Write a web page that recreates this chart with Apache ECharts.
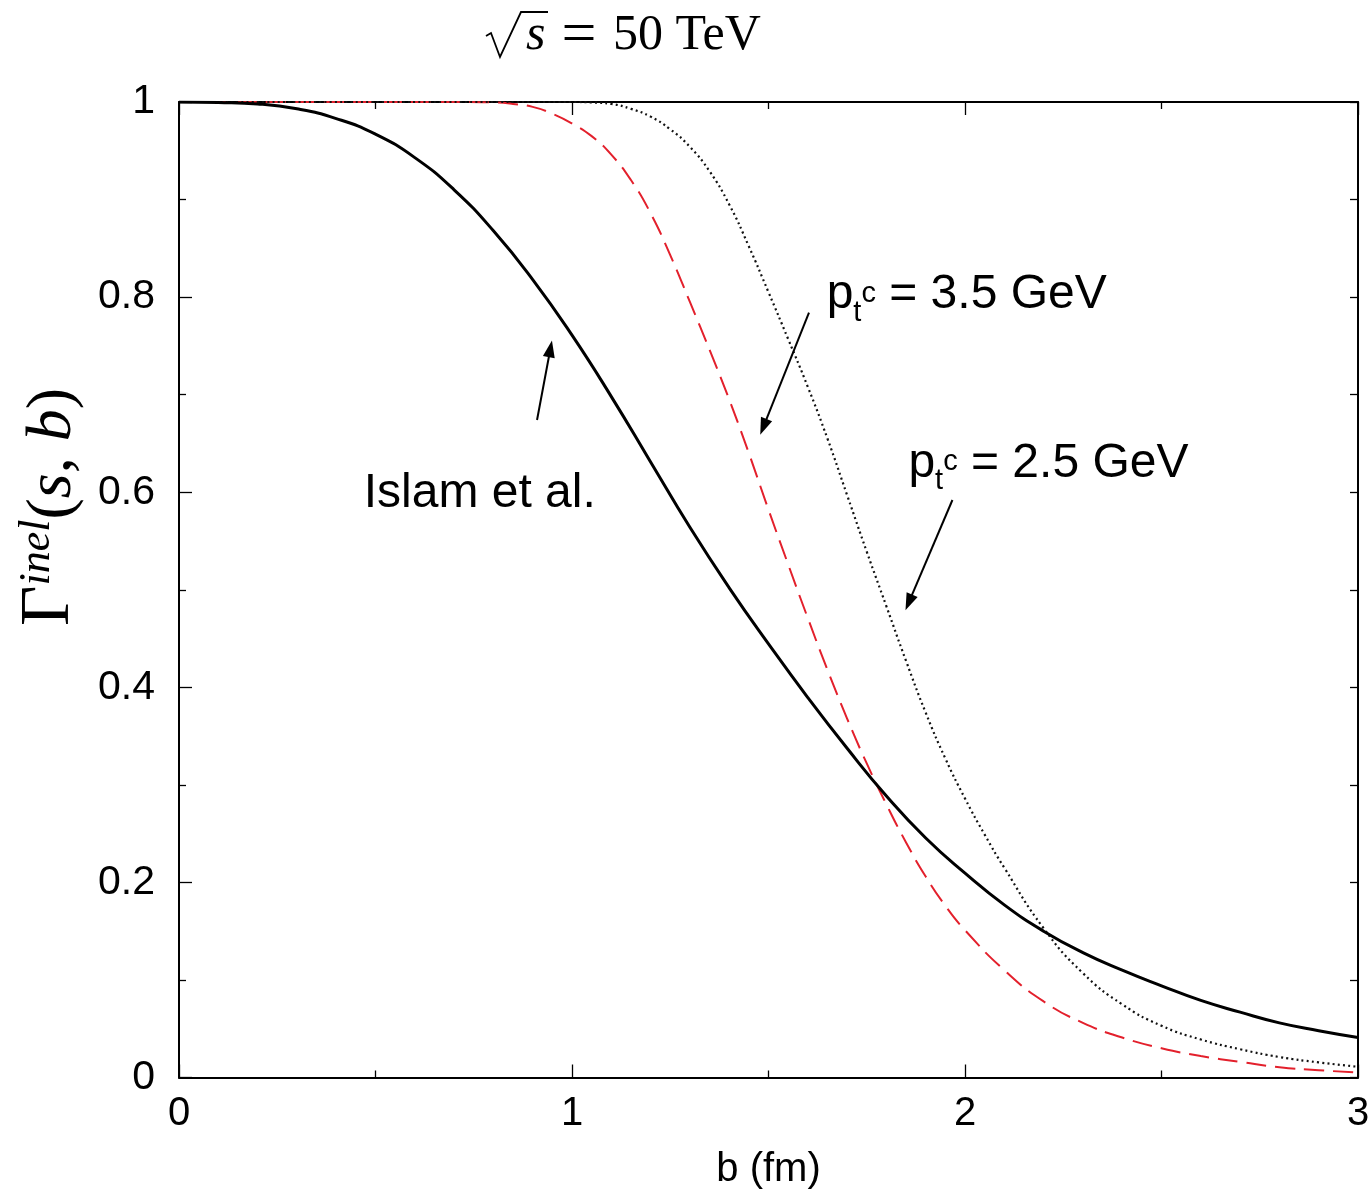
<!DOCTYPE html>
<html>
<head>
<meta charset="utf-8">
<script src="https://cdn.jsdelivr.net/npm/echarts@6/dist/echarts.min.js"></script>
<style>
  html, body { margin: 0; padding: 0; background: #fff; }
  #chart { width: 1368px; height: 1190px; }
</style>
</head>
<body>
<div id="chart"></div>
<script>
// Inelastic overlap function Γ_inel(s, b) at √s = 50 TeV
const bTickLabels = ['0', '1', '2', '3'];
const gTickLabels = ['0', '0.2', '0.4', '0.6', '0.8', '1'];

// Islam et al. (solid black)
const islam = [
  [0, 1.0], [0.1, 0.9995], [0.2, 0.998], [0.3, 0.993], [0.4, 0.983], [0.5, 0.967],
  [0.6, 0.943], [0.7, 0.910], [0.8, 0.868], [0.9, 0.818], [1.0, 0.761], [1.1, 0.698],
  [1.2, 0.631], [1.3, 0.564], [1.4, 0.502], [1.5, 0.4445], [1.6, 0.3895], [1.7, 0.3375],
  [1.8, 0.2885], [1.9, 0.2455], [2.0, 0.2095], [2.1, 0.177], [2.2, 0.150], [2.3, 0.128],
  [2.4, 0.110], [2.5, 0.094], [2.6, 0.079], [2.7, 0.067], [2.8, 0.056], [2.9, 0.048],
  [3.0, 0.041]
];

// p_t^c = 3.5 GeV (red dashed)
const pt35 = [
  [0, 1.0], [0.4, 1.0], [0.7, 1.0], [0.8, 0.9995], [0.85, 0.998], [0.9, 0.995], [0.95, 0.988],
  [1.0, 0.978], [1.05, 0.965], [1.1, 0.946], [1.15, 0.920], [1.2, 0.886], [1.25, 0.843],
  [1.3, 0.795], [1.35, 0.746], [1.4, 0.695], [1.45, 0.640], [1.5, 0.582], [1.55, 0.526],
  [1.6, 0.471], [1.65, 0.418], [1.7, 0.368], [1.75, 0.322], [1.8, 0.280], [1.85, 0.241],
  [1.9, 0.206], [1.95, 0.176], [2.0, 0.151], [2.1, 0.110], [2.2, 0.078], [2.3, 0.056],
  [2.4, 0.041], [2.5, 0.030], [2.6, 0.022], [2.7, 0.016], [2.8, 0.0105], [2.9, 0.0075],
  [3.0, 0.005]
];

// p_t^c = 2.5 GeV (black dotted)
const pt25 = [
  [0, 1.0], [0.5, 1.0], [0.9, 1.0], [1.0, 1.0], [1.05, 0.9995], [1.1, 0.998], [1.15, 0.993],
  [1.2, 0.985], [1.25, 0.972], [1.3, 0.954], [1.35, 0.929], [1.4, 0.895], [1.45, 0.852],
  [1.5, 0.805], [1.55, 0.757], [1.6, 0.708], [1.65, 0.655], [1.7, 0.597], [1.75, 0.539],
  [1.8, 0.483], [1.85, 0.427], [1.9, 0.374], [1.95, 0.327], [2.0, 0.286], [2.05, 0.249],
  [2.1, 0.215], [2.2, 0.153], [2.3, 0.107], [2.4, 0.075], [2.5, 0.053], [2.6, 0.039],
  [2.7, 0.029], [2.8, 0.021], [2.9, 0.0155], [3.0, 0.011]
];

// Annotation arrows: [tail, head] in (b, Γ) data units
const arrowIslam = [[0.911, 0.674], [0.945, 0.747]];
const arrow35 = [[1.603, 0.784], [1.487, 0.667]];
const arrow25 = [[1.968, 0.592], [1.857, 0.487]];

// Label anchors (left edge, text centre) in data units
const labelIslam = [0.470, 0.598];
const label35 = [1.648, 0.798];
const label25 = [1.856, 0.625];

const SANS = '"Liberation Sans", Arial, sans-serif';
const SERIF = '"Liberation Serif", "Times New Roman", serif';

const chart = echarts.init(document.getElementById('chart'));

function arrowLine(pair) {
  return {
    silent: true,
    animation: false,
    symbol: ['none', 'triangle'],
    symbolSize: [12, 17],
    label: { show: false },
    emphasis: { disabled: true },
    lineStyle: { color: '#000', width: 2, type: 'solid' },
    itemStyle: { color: '#000' },
    data: [[{ coord: pair[0] }, { coord: pair[1] }]]
  };
}

const tickLine = { color: '#000', width: 1.3 };
const frameLine = { show: true, onZero: false, lineStyle: { color: '#000', width: 2 } };

chart.setOption({
  animation: false,
  backgroundColor: '#fff',
  grid: {
    left: 179, right: 10, top: 102, bottom: 112.5,
    containLabel: false, outerBoundsMode: 'none'
  },
  xAxis: [
    {
      type: 'value', min: 0, max: 3, interval: 1, position: 'bottom',
      axisLine: frameLine,
      axisTick: { show: true, inside: true, length: 13, lineStyle: tickLine },
      minorTick: { show: true, splitNumber: 2, length: 7, lineStyle: tickLine },
      splitLine: { show: false },
      axisLabel: {
        margin: 16, fontFamily: SANS, fontSize: 40, color: '#000',
        formatter: v => bTickLabels[Math.round(v)]
      },
      name: 'b (fm)', nameLocation: 'middle', nameGap: 72,
      nameTextStyle: { fontFamily: SANS, fontSize: 40, color: '#000' }
    },
    {
      type: 'value', min: 0, max: 3, interval: 1, position: 'top',
      axisLine: frameLine,
      axisTick: { show: true, inside: true, length: 13, lineStyle: tickLine },
      minorTick: { show: true, splitNumber: 2, length: 7, lineStyle: tickLine },
      splitLine: { show: false },
      axisLabel: { show: false }
    }
  ],
  yAxis: [
    {
      type: 'value', min: 0, max: 1, interval: 0.2, position: 'left',
      axisLine: frameLine,
      axisTick: { show: true, inside: true, length: 13, lineStyle: tickLine },
      minorTick: { show: true, splitNumber: 2, length: 7, lineStyle: tickLine },
      splitLine: { show: false },
      axisLabel: {
        margin: 24, fontFamily: SANS, fontSize: 41, color: '#000',
        formatter: v => gTickLabels[Math.round(v * 5)]
      }
    },
    {
      type: 'value', min: 0, max: 1, interval: 0.1, position: 'right',
      axisLine: frameLine,
      axisTick: { show: true, inside: true, length: 8, lineStyle: tickLine },
      splitLine: { show: false },
      axisLabel: { show: false }
    }
  ],
  series: [
    {
      name: 'Islam et al.', type: 'line', data: islam,
      showSymbol: false, smooth: 0.5, z: 4,
      lineStyle: { color: '#000', width: 3 },
      markLine: arrowLine(arrowIslam)
    },
    {
      name: 'p_t^c = 3.5 GeV', type: 'line', data: pt35,
      showSymbol: false, smooth: 0.5, z: 3,
      lineStyle: { color: '#e3202c', width: 2, type: [20, 9] },
      markLine: arrowLine(arrow35)
    },
    {
      name: 'p_t^c = 2.5 GeV', type: 'line', data: pt25,
      showSymbol: false, smooth: 0.5, z: 3,
      lineStyle: { color: '#111', width: 2.2, type: [2, 3.2] },
      markLine: arrowLine(arrow25)
    }
  ]
});

// Text annotations placed through the grid's coordinate system
const ptRich = {
  p: { fontFamily: SANS, fontSize: 48, lineHeight: 48, padding: [0, 0, 8, 0], verticalAlign: 'bottom', color: '#000' },
  sub: { fontFamily: SANS, fontSize: 29, lineHeight: 29, verticalAlign: 'bottom', color: '#000' },
  sup: { fontFamily: SANS, fontSize: 29, lineHeight: 29, verticalAlign: 'top', color: '#000' }
};

function px(pt) { return chart.convertToPixel({ gridIndex: 0 }, pt); }

const pI = px(labelIslam), p35 = px(label35), p25 = px(label25);

const graphics = [
  {
    type: 'text', x: pI[0], y: pI[1], silent: true,
    style: { text: 'Islam et al.', fontFamily: SANS, fontSize: 48, fill: '#000', align: 'left', verticalAlign: 'middle' }
  },
  {
    type: 'text', x: p35[0], y: p35[1] + 4, silent: true,
    style: { text: '{p|p}{sub|t}{sup|c}{p| = 3.5 GeV}', rich: ptRich, align: 'left', verticalAlign: 'middle' }
  },
  {
    type: 'text', x: p25[0], y: p25[1] + 4, silent: true,
    style: { text: '{p|p}{sub|t}{sup|c}{p| = 2.5 GeV}', rich: ptRich, align: 'left', verticalAlign: 'middle' }
  },
  // Title: √s = 50 TeV
  {
    type: 'polyline', silent: true,
    shape: { points: [[486, 36], [491, 33], [500, 57], [521, 12], [548, 12]] },
    style: { stroke: '#000', lineWidth: 1.8, fill: null, lineJoin: 'miter' }
  },
  {
    type: 'text', x: 526, y: 36, silent: true,
    style: { text: 's', fontFamily: SERIF, fontStyle: 'italic', fontSize: 50, fill: '#000', align: 'left', verticalAlign: 'middle' }
  },
  {
    type: 'text', x: 579, y: 37, silent: true,
    style: { text: '=', fontFamily: SERIF, fontSize: 62, fill: '#000', align: 'center', verticalAlign: 'middle' }
  },
  {
    type: 'text', x: 613, y: 36, silent: true,
    style: { text: '50 TeV', fontFamily: SERIF, fontSize: 50, fill: '#000', align: 'left', verticalAlign: 'middle' }
  },
  // Y axis title: Γ^inel(s, b)
  {
    type: 'text', x: 50, y: 507, rotation: Math.PI / 2, silent: true,
    style: {
      text: '{g|Γ}{sup|inel}{m|(}{i|s}{m|, }{i|b}{m|)}',
      align: 'center', verticalAlign: 'middle',
      rich: {
        g: { fontFamily: SERIF, fontSize: 70, lineHeight: 70, verticalAlign: 'bottom', padding: [3, 0, 0, 0], color: '#000' },
        m: { fontFamily: SERIF, fontSize: 64, lineHeight: 64, verticalAlign: 'bottom', padding: [9, 0, 0, 0], color: '#000' },
        i: { fontFamily: SERIF, fontStyle: 'italic', fontSize: 64, lineHeight: 64, verticalAlign: 'bottom', padding: [9, 0, 0, 0], color: '#000' },
        sup: { fontFamily: SERIF, fontStyle: 'italic', fontSize: 44, lineHeight: 44, verticalAlign: 'top', color: '#000' }
      }
    }
  }
];

chart.setOption({ graphic: graphics });
</script>
</body>
</html>
